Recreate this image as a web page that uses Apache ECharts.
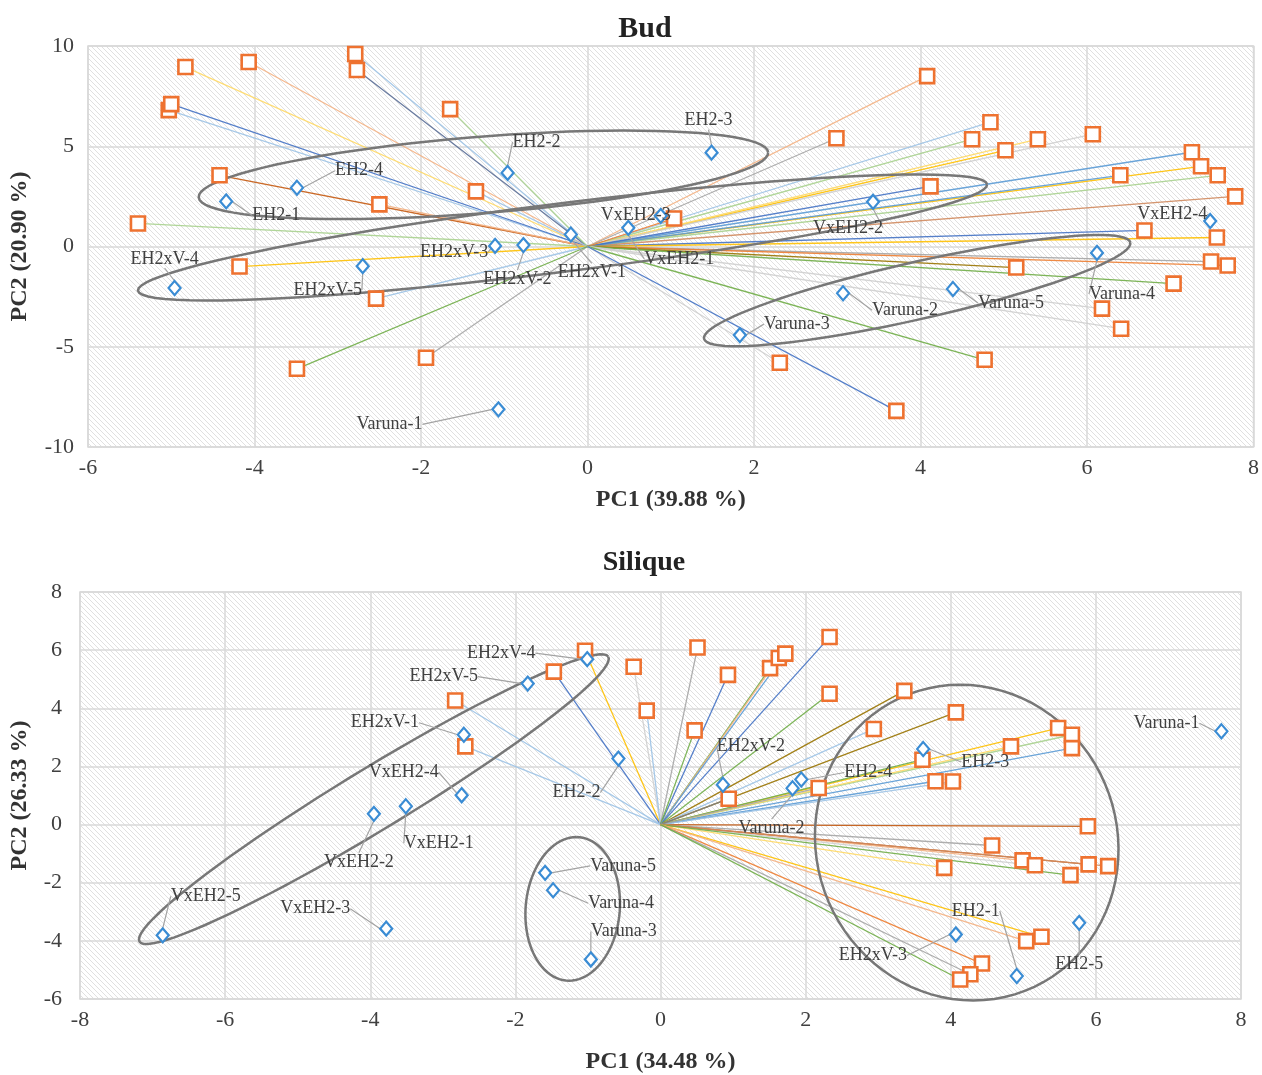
<!DOCTYPE html>
<html>
<head>
<meta charset="utf-8">
<title>Bud / Silique PCA biplots</title>
<script src="https://cdn.jsdelivr.net/npm/echarts@6/dist/echarts.min.js"></script>
<style>
  html, body { margin: 0; padding: 0; background: #fff; }
  #chart { width: 1262px; height: 1075px; }
</style>
</head>
<body>
<div id="chart"></div>
<script>
// ---- Bud: variable loadings (orange squares) ----
let bud_load_pc1 = [-4.83, -4.07, -2.79, -2.77, -5.03, -5.0, -1.65, -4.42, -2.5, -1.34,
                    -5.4, -4.18, -2.54, -1.94, -3.49, 4.08, 2.99, 4.84, 4.62, 5.02,
                    5.41, 6.07, 7.26, 7.37, 7.57, 7.78, 6.4, 4.12, 1.04, 6.69,
                    7.56, 7.49, 7.69, 5.15, 7.04, 6.18, 6.41, 4.77, 2.31, 3.71];
let bud_load_pc2 = [8.95, 9.2, 9.6, 8.8, 6.8, 7.1, 6.85, 3.55, 2.1, 2.75,
                    1.15, -1.0, -2.6, -5.55, -6.1, 8.5, 5.4, 6.2, 5.35, 4.8,
                    5.35, 5.6, 4.7, 4.0, 3.55, 2.5, 3.55, 3.0, 1.4, 0.8,
                    0.45, -0.75, -0.95, -1.05, -1.85, -3.1, -4.1, -5.65, -5.8, -8.2];

// ---- Bud: samples (blue diamonds) ----
let bud_samples = ["EH2-1", "EH2-2", "EH2-3", "EH2-4",
                   "EH2xV-1", "EH2xV-2", "EH2xV-3", "EH2xV-4", "EH2xV-5",
                   "VxEH2-1", "VxEH2-2", "VxEH2-3", "VxEH2-4",
                   "Varuna-1", "Varuna-2", "Varuna-3", "Varuna-4", "Varuna-5"];
let bud_pc1 = [-4.34, -0.96, 1.49, -3.49, -0.2, -0.77, -1.11, -4.96, -2.7,
               0.49, 3.43, 0.88, 7.48, -1.07, 3.07, 1.83, 6.12, 4.39];
let bud_pc2 = [2.25, 3.67, 4.68, 2.93, 0.6, 0.07, 0.03, -2.07, -0.98,
               0.93, 2.23, 1.53, 1.27, -8.12, -2.33, -4.42, -0.32, -2.12];

// ---- Bud: group ellipses (centre, two conjugate semi-axes) ----
let bud_ell_cx = [-1.25, -0.3, 3.96];
let bud_ell_cy = [3.575, 0.45, -2.2];
let bud_ell_ux = [3.42, 5.1, 2.56];
let bud_ell_uy = [1.125, 2.65, 2.4];
let bud_ell_vx = [-0.04, -0.05, -0.075];
let bud_ell_vy = [1.9, 1.69, 1.39];

// ---- Silique: variable loadings ----
let sil_load_pc1 = [-1.04, -1.47, -0.37, -0.19, -2.83, -2.69, 0.51, 0.93, 0.47, 1.51,
                    1.63, 1.72, 2.33, 2.33, 3.36, 2.94, 4.07, 5.48, 5.67, 5.67,
                    4.83, 3.61, 3.79, 4.03, 2.18, 0.94, 5.89, 4.57, 4.99, 5.16,
                    3.91, 5.9, 6.17, 5.65, 5.25, 5.04, 4.43, 4.27, 4.13];
let sil_load_pc2 = [5.98, 5.26, 5.43, 3.92, 4.27, 2.69, 6.09, 5.15, 3.24, 5.38,
                    5.73, 5.88, 6.45, 4.5, 4.6, 3.29, 3.86, 3.32, 3.09, 2.63,
                    2.69, 2.23, 1.49, 1.48, 1.26, 0.89, -0.06, -0.72, -1.23, -1.4,
                    -1.49, -1.37, -1.43, -1.74, -3.86, -4.01, -4.78, -5.15, -5.33];

// ---- Silique: samples ----
let sil_samples = ["EH2-1", "EH2-2", "EH2-3", "EH2-4", "EH2-5",
                   "EH2xV-1", "EH2xV-2", "EH2xV-3", "EH2xV-4", "EH2xV-5",
                   "VxEH2-1", "VxEH2-2", "VxEH2-3", "VxEH2-4", "VxEH2-5",
                   "Varuna-1", "Varuna-2", "Varuna-3", "Varuna-4", "Varuna-5"];
let sil_pc1 = [4.91, -0.58, 3.62, 1.94, 5.77, -2.71, 0.86, 4.07, -1.01, -1.83,
               -3.51, -3.95, -3.78, -2.74, -6.86, 7.73, 1.82, -0.96, -1.48, -1.59];
let sil_pc2 = [-5.21, 2.27, 2.6, 1.55, -3.38, 3.09, 1.37, -3.78, 5.69, 4.85,
               0.63, 0.37, -3.58, 1.01, -3.81, 3.21, 1.25, -4.64, -2.26, -1.66];

let sil_ell_cx = [-3.95, -1.21, 4.22];
let sil_ell_cy = [0.875, -2.9, -0.62];
let sil_ell_ux = [3.23, 0.05, -0.09];
let sil_ell_uy = [4.9, 2.47, 5.43];
let sil_ell_vx = [0.22, 0.65, 2.09];
let sil_ell_vy = [-0.91, 0, 0];

// ---- styles ----
const LB = "#9DC3E6", BL = "#5B9BD5", DB = "#4472C4", SL = "#5A6E96", OR = "#ED7D31",
      PE = "#F4B183", BR = "#C55A11", GO = "#FFC000", YE = "#FFD966", GR = "#70AD47",
      LG = "#A9D18E", OL = "#997300", GY = "#A5A5A5", LGY = "#CFCFCF";

let bud_ray_colors = [YE, PE, LB, SL, LB, DB, LG, BR, PE, LB,
                      LG, GO, LB, GY, GR, PE, GY, LB, LG, GO,
                      YE, LGY, BL, GO, LG, "#D08A5E", BL, DB, OR, DB,
                      GO, GY, OR, OL, GR, LGY, LGY, GR, LGY, DB];
let sil_ray_colors = [GO, DB, LGY, LB, LB, LB, GY, DB, GR, GR,
                      PE, BL, DB, GR, OL, LB, OL, GO, LG, BL,
                      YE, GR, BL, LB, GY, "#7F7F7F", BR, GY, PE, LGY,
                      YE, BR, "#D08A5E", GR, GO, PE, OR, GY, GR];

// label offsets (pixels from marker centre)
let bud_label_off = [[50, 14], [29, -31], [-3, -32], [62, -17], [21, 38], [-6, 34], [-41, 6],
                     [-10, -29], [-35, 24], [51, 31], [-25, 26], [-25, -1], [-38, -7],
                     [-109, 15], [62, 17], [57, -11], [25, 41], [58, 14]];
let sil_label_off = [[-41, -65], [-42, 34], [62, 13], [67, -7], [0, 41], [-79, -12], [28, -38],
                     [-83, 21], [-86, -6], [-84, -7], [33, 37], [-15, 48], [-71, -20],
                     [-58, -23], [43, -39], [-55, -8], [-21, 40], [33, -28], [68, 13], [78, -7]];

const FONT = "Liberation Serif";
const TXT = "#404040";

function make_hatch() {
    let c = document.createElement("canvas");
    c.width = 5; c.height = 5;
    let ctx = c.getContext("2d");
    ctx.fillStyle = "#ffffff";
    ctx.fillRect(0, 0, 5, 5);
    ctx.strokeStyle = "#d6d6d6";
    ctx.lineWidth = 0.75;
    ctx.beginPath();
    ctx.moveTo(-1, -1); ctx.lineTo(6, 6);
    ctx.moveTo(-1, 4); ctx.lineTo(1, 6);
    ctx.moveTo(4, -1); ctx.lineTo(6, 1);
    ctx.stroke();
    return { image: c, repeat: "repeat" };
}

function zip(a, b) {
    let out = [];
    for (let i = 0; i < a.length; i++) out.push([a[i], b[i]]);
    return out;
}

function ellipse_rows(cx, cy, ux, uy, vx, vy) {
    let out = [];
    for (let i = 0; i < cx.length; i++) out.push([cx[i], cy[i], ux[i], uy[i], vx[i], vy[i]]);
    return out;
}

function render_ray(colors) {
    return function (params, api) {
        let o = api.coord([0, 0]);
        let p = api.coord([api.value(0), api.value(1)]);
        return {
            type: "line",
            shape: { x1: o[0], y1: o[1], x2: p[0], y2: p[1] },
            style: { stroke: colors[params.dataIndex], lineWidth: 1.3, opacity: 0.9 }
        };
    };
}

function render_ellipse(params, api) {
    let pts = [];
    let n = 90;
    for (let k = 0; k <= n; k++) {
        let t = k / n * Math.PI * 2;
        let x = api.value(0) + api.value(2) * Math.cos(t) + api.value(4) * Math.sin(t);
        let y = api.value(1) + api.value(3) * Math.cos(t) + api.value(5) * Math.sin(t);
        pts.push(api.coord([x, y]));
    }
    return {
        type: "polyline",
        shape: { points: pts },
        style: { fill: null, stroke: "#777777", lineWidth: 2.5 }
    };
}

function label_layout(offsets) {
    return function (params) {
        let r = params.rect;
        let off = offsets[params.dataIndex];
        return {
            x: r.x + r.width / 2 + off[0],
            y: r.y + r.height / 2 + off[1],
            align: "center",
            verticalAlign: "middle"
        };
    };
}

let hatch = make_hatch();

function grid_cfg(left, top, right, height) {
    return {
        left: left, top: top, right: right, height: height,
        show: true, backgroundColor: hatch,
        borderColor: "#d9d9d9", borderWidth: 1.5
    };
}

function x_axis(idx, min, max, name, gap) {
    return {
        gridIndex: idx, type: "value", min: min, max: max, interval: 2,
        name: name, nameLocation: "middle", nameGap: gap,
        nameTextStyle: { fontFamily: FONT, fontSize: 24, fontWeight: "bold", color: "#333" },
        axisLine: { show: false }, axisTick: { show: false },
        axisLabel: { fontFamily: FONT, fontSize: 22, color: TXT, margin: 10 },
        splitLine: { show: true, lineStyle: { color: "#d9d9d9", width: 1.5 } }
    };
}

function y_axis(idx, min, max, interval, name, gap, margin) {
    return {
        gridIndex: idx, type: "value", min: min, max: max, interval: interval,
        name: name, nameLocation: "middle", nameGap: gap,
        nameTextStyle: { fontFamily: FONT, fontSize: 24, fontWeight: "bold", color: "#333" },
        axisLine: { show: false }, axisTick: { show: false },
        axisLabel: { fontFamily: FONT, fontSize: 22, color: TXT, margin: margin },
        splitLine: { show: true, lineStyle: { color: "#d9d9d9", width: 1.5 } }
    };
}

function panel_series(idx, lx, ly, rayColors, ell, names, sx, sy, offsets) {
    let samples = [];
    for (let i = 0; i < names.length; i++) samples.push({ name: names[i], value: [sx[i], sy[i]] });
    return [
        {
            type: "custom", xAxisIndex: idx, yAxisIndex: idx, z: 1, silent: true,
            renderItem: render_ray(rayColors), encode: { x: 0, y: 1 },
            data: zip(lx, ly)
        },
        {
            type: "custom", xAxisIndex: idx, yAxisIndex: idx, z: 2, silent: true,
            renderItem: render_ellipse, encode: { x: 0, y: 1 },
            data: ell
        },
        {
            type: "scatter", xAxisIndex: idx, yAxisIndex: idx, z: 3, silent: true,
            symbol: "rect", symbolSize: 14,
            itemStyle: { color: "#ffffff", borderColor: "#EE7230", borderWidth: 2.6, opacity: 1 },
            data: zip(lx, ly)
        },
        {
            type: "scatter", xAxisIndex: idx, yAxisIndex: idx, z: 4, silent: true,
            symbol: "diamond", symbolSize: [12, 14],
            itemStyle: { color: "#ffffff", borderColor: "#3A8CD4", borderWidth: 2.2, opacity: 1 },
            label: {
                show: true, formatter: "{b}",
                fontFamily: FONT, fontSize: 18, color: TXT
            },
            labelLine: { show: true, lineStyle: { color: "#a3a3a3", width: 1.2 } },
            labelLayout: label_layout(offsets),
            data: samples
        }
    ];
}

let chart = echarts.init(document.getElementById("chart"), null, { renderer: "canvas" });

let option = {
    backgroundColor: "#ffffff",
    animation: false,
    title: [
        { text: "Bud", left: 640, top: 9, textAlign: "center",
          textStyle: { fontFamily: FONT, fontSize: 30, fontWeight: "bold", color: "#222" } },
        { text: "Silique", left: 639, top: 544, textAlign: "center",
          textStyle: { fontFamily: FONT, fontSize: 28, fontWeight: "bold", color: "#222" } }
    ],
    grid: [
        grid_cfg(88, 46, 6, 401),
        grid_cfg(80, 592, 21, 407)
    ],
    xAxis: [
        x_axis(0, -6, 8, "PC1 (39.88 %)", 41),
        x_axis(1, -8, 8, "PC1 (34.48 %)", 51)
    ],
    yAxis: [
        y_axis(0, -10, 10, 5, "PC2 (20.90 %)", 56, 14),
        y_axis(1, -6, 8, 2, "PC2 (26.33 %)", 48, 18)
    ],
    series: [].concat(
        panel_series(0, bud_load_pc1, bud_load_pc2, bud_ray_colors,
            ellipse_rows(bud_ell_cx, bud_ell_cy, bud_ell_ux, bud_ell_uy, bud_ell_vx, bud_ell_vy),
            bud_samples, bud_pc1, bud_pc2, bud_label_off),
        panel_series(1, sil_load_pc1, sil_load_pc2, sil_ray_colors,
            ellipse_rows(sil_ell_cx, sil_ell_cy, sil_ell_ux, sil_ell_uy, sil_ell_vx, sil_ell_vy),
            sil_samples, sil_pc1, sil_pc2, sil_label_off)
    )
};

chart.setOption(option);
</script>
</body>
</html>
